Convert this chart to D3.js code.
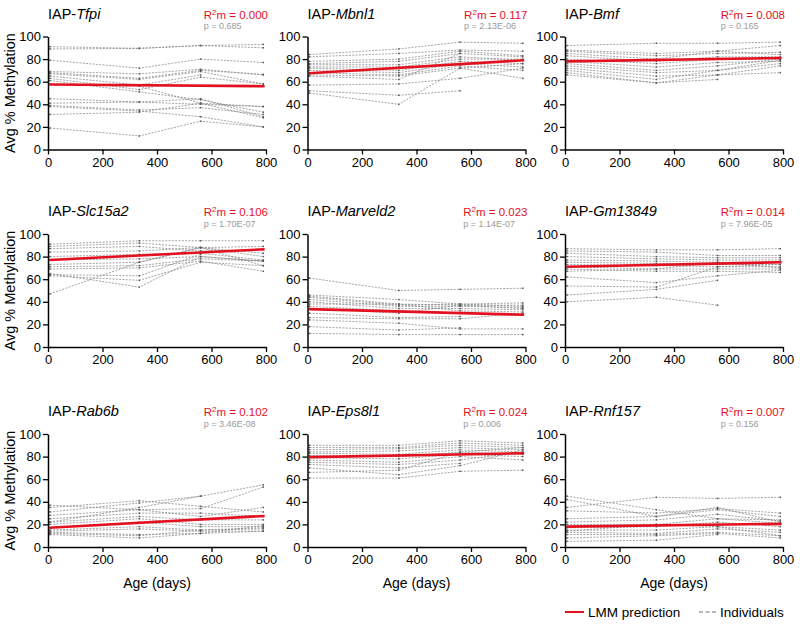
<!DOCTYPE html>
<html>
<head>
<meta charset="utf-8">
<script src="https://cdn.jsdelivr.net/npm/d3@7"></script>
<style>
  html, body { margin: 0; padding: 0; background: #fff; }
  svg { display: block; font-family: "Liberation Sans", Arial, sans-serif; }
</style>
</head>
<body>
<svg id="chart" width="800" height="627"></svg>
<script>
// ---------------- DATA ----------------
const genes = ["Tfpi", "Mbnl1", "Bmf", "Slc15a2", "Marveld2", "Gm13849", "Rab6b", "Eps8l1", "Rnf157"];
const r2mValues = ["0.000", "0.117", "0.008", "0.106", "0.023", "0.014", "0.102", "0.024", "0.007"];
const pValues = ["0.685", "2.13E-06", "0.165", "1.70E-07", "1.14E-07", "7.96E-05", "3.46E-08", "0.006", "0.156"];
const ages = [7, 335, 560, 790];
const lmmAges = [5, 795];
const lmmStart = [57.5, 67.5, 78, 77, 33.5, 71, 17, 79.5, 18];
const lmmEnd = [56, 79, 81, 86.5, 28.5, 75, 27.5, 83, 20.5];
const xTicks = [0, 200, 400, 600, 800];
const yTicks = [0, 20, 40, 60, 80, 100];

const indivTfpi = [
  [91, 89.5, 92, 93], [89, 89.5, 92, 90], [79, 72, 80, 77], [69, 67, 71, 66],
  [68, 63, 70, 66.5], [67, 62, 69, 58], [65, 57, 66, null], [63, 53, 64, 58],
  [61, 51, 44, 33], [58, 56, 41, 38], [45, 42, 45, 29], [41, 42, 40, 38],
  [39, 35, 37, 31], [38, 34, 29, 20], [31, 33, 41, 28], [19, 12, 25, 20]
];
const indivMbnl1 = [
  [84, 89, 95, 94], [82, 85, 88, 87], [78, 80, 87, 83], [76, 78, 85, 82],
  [75, 75, 82, 79], [73, 73, 80, 80], [72, 70, 78, 76], [70, 68, 76, 73],
  [68, 66, 74, 70], [66, 65, 72, 63], [65, 62, 85, null], [57, 58, 63, 72],
  [52, 48, 52, null], [50, 40, 72, 76]
];
const indivBmf = [
  [92, 94, 94, 95], [88, 85, 87, 92], [87, 83, 85, 86], [85, 80, 87, 84],
  [83, 78, 82, 82], [80, 76, 80, 80], [78, 73, 77, 78], [76, 70, 74, 80],
  [74, 68, 70, 76], [72, 65, 66, 74], [70, 62, 70, 79], [68, 59, 62, null],
  [66, 59, 66, 68]
];
const indivSlc15a2 = [
  [91, 94, 94, 94], [89, 92, 88, 89], [87, 89, 85, 86], [84, 85, 88, 83],
  [80, 82, 83, 77], [77, 78, 80, 76], [73, 75, 88, 72], [71, 72, 78, 76],
  [69, 70, 76, 67], [65, 53, 80, 76], [64, 63, 82, null], [63, 59, 75, 72],
  [47, 75, 88, 80]
];
const indivMarveld2 = [
  [61, 50, 51, 52], [46, 42, 38, 39], [45, 38, 37, 37], [44, 37, 38, 36],
  [42, 36, 36, 35], [40, 34, 34, 33], [38, 38, 32, 31], [36, 32, 30, 29],
  [34, 30, 37, 34], [30, 26, 27, null], [26, 25, 25, 30], [24, 21, 16, 16],
  [18, 15, 17, null], [12, 11, 11, 11]
];
const indivGm13849 = [
  [87, 86, 86, 87], [85, 84, 81, 81], [83, 80, 79, 79], [80, 78, 77, 77],
  [77, 76, 75, 75], [75, 74, 73, 73], [73, 72, 71, 71], [71, 69, 69, 69],
  [69, 67, 67, 66], [67, 69, 75, 70], [62, 57, 63, 68], [54, 53, 71, 73],
  [46, 51, 59, null], [40, 44, 37, null]
];
const indivRab6b = [
  [37, 33, 27, 35], [35, 41, 36, 31], [31, 39, 45, 55], [28, 33, 34, 53],
  [25, 30, 30, 27], [22, 27, 24, 24], [22, 35, 45, null], [20, 25, 20, 20],
  [17, 22, 18, 18], [15, 18, 15, 16], [14, 16, 14, 14], [13, 11, 12, 19],
  [12, 10, 15, 17], [11, 8, 12, 14]
];
const indivEps8l1 = [
  [90, 90, 94, 92], [88, 88, 92, 90], [86, 87, 90, 88], [84, 85, 88, 86],
  [83, 82, 86, 84], [81, 80, 84, 82], [79, 78, 82, 80], [77, 75, 80, 77],
  [75, 73, 77, 84], [73, 70, 74, null], [70, 64, 72, 86], [66, 68, 84, 88],
  [61, 61, 67, 68]
];
const indivRnf157 = [
  [45, 33, 25, 24], [42, 27, 35, 22], [35, 44, 43, 44], [32, 30, 34, 30],
  [25, 27, 33, 27], [22, 24, 29, 23], [20, 20, 25, 21], [17, 18, 22, 18],
  [15, 15, 18, 15], [13, 12, 16, 13], [11, 11, 13, 10], [8, 10, 12, 8],
  [5, 6, 11, null], [14, 20, 18, 10]
];
const individuals = [indivTfpi, indivMbnl1, indivBmf, indivSlc15a2, indivMarveld2,
  indivGm13849, indivRab6b, indivEps8l1, indivRnf157];

// ---------------- LAYOUT ----------------
const colX = [48, 307.5, 565];
const rowY = [36.5, 234, 434];
const plotW = 218, plotH = 113;
const RED = "#e3111f";

const svg = d3.select("#chart");

genes.forEach((gene, i) => {
  const col = i % 3, row = Math.floor(i / 3);
  const g = svg.append("g").attr("transform", `translate(${colX[col]},${rowY[row]})`);
  const x = d3.scaleLinear().domain([0, 800]).range([0, plotW]);
  const y = d3.scaleLinear().domain([0, 100]).range([plotH, 0]);

  // individuals
  const line = d3.line()
    .defined(d => d.v != null)
    .x(d => x(d.a)).y(d => y(d.v));
  individuals[i].forEach(vals => {
    const pts = vals.map((v, k) => ({ a: ages[k], v }));
    g.append("path").datum(pts)
      .attr("d", line)
      .attr("fill", "none")
      .attr("stroke", "#7c7c7c")
      .attr("stroke-width", 0.7)
      .attr("stroke-dasharray", "2,1.3");
    g.selectAll(null).data(pts.filter(d => d.v != null)).enter()
      .append("rect")
      .attr("x", d => x(d.a) - 0.75).attr("y", d => y(d.v) - 0.75)
      .attr("width", 1.5).attr("height", 1.5)
      .attr("fill", "#555");
  });

  // LMM line
  const lmm = [{ a: lmmAges[0], v: lmmStart[i] }, { a: lmmAges[1], v: lmmEnd[i] }];
  g.append("path").datum(lmm)
    .attr("d", d3.line().x(d => x(d.a)).y(d => y(d.v)))
    .attr("fill", "none").attr("stroke", RED).attr("stroke-width", 2.6);

  // axes
  const xa = g.append("g").attr("transform", `translate(0,${plotH})`)
    .call(d3.axisBottom(x).tickValues(xTicks).tickSize(5).tickSizeOuter(0).tickPadding(3));
  const ya = g.append("g")
    .call(d3.axisLeft(y).tickValues(yTicks).tickSize(5).tickSizeOuter(0).tickPadding(2));
  [xa, ya].forEach(a => {
    a.selectAll("path").attr("stroke", "#000").attr("stroke-width", 1.5);
    a.selectAll("line").attr("stroke", "#000").attr("stroke-width", 1.3);
    a.selectAll("text").attr("fill", "#000").style("font-size", "13px")
      .style("font-family", "'Liberation Sans', Arial, sans-serif");
  });

  // title
  const t = g.append("text").attr("x", 0).attr("y", -18)
    .style("font-size", "14.5px").attr("fill", "#000");
  t.append("tspan").text("IAP-");
  t.append("tspan").style("font-style", "italic").text(gene);

  // R2m and p
  const r = g.append("text").attr("x", plotW + 2).attr("y", -18)
    .attr("text-anchor", "end").style("font-size", "11.5px").attr("fill", RED);
  r.append("tspan").text("R");
  r.append("tspan").attr("dy", -4).style("font-size", "8px").text("2");
  r.append("tspan").attr("dy", 4).text("m = " + r2mValues[i]);
  const rStart = plotW + 2 - r.node().getComputedTextLength();
  g.append("text").attr("x", rStart).attr("y", -7.5)
    .style("font-size", "9px").attr("fill", "#9a9a9a")
    .text("p = " + pValues[i]);

  // y label
  if (col === 0) {
    g.append("text")
      .attr("transform", `translate(${-33},${plotH / 2}) rotate(-90)`)
      .attr("text-anchor", "middle")
      .style("font-size", "14.5px").attr("fill", "#000")
      .text("Avg % Methylation");
  }
  // x label
  if (row === 2) {
    g.append("text").attr("x", plotW / 2).attr("y", plotH + 41)
      .attr("text-anchor", "middle")
      .style("font-size", "14px").attr("fill", "#000")
      .text("Age (days)");
  }
});

// legend
const leg = svg.append("g").attr("transform", "translate(565,612)");
leg.append("line").attr("x1", 0).attr("x2", 19).attr("y1", 0).attr("y2", 0)
  .attr("stroke", RED).attr("stroke-width", 2);
leg.append("text").attr("x", 23).attr("y", 4.5).style("font-size", "13.5px").text("LMM prediction");
leg.append("line").attr("x1", 134).attr("x2", 153).attr("y1", 0).attr("y2", 0)
  .attr("stroke", "#6f6f6f").attr("stroke-width", 1).attr("stroke-dasharray", "4,2.5");
leg.append("text").attr("x", 155).attr("y", 4.5).style("font-size", "13.5px").text("Individuals");
</script>
</body>
</html>
